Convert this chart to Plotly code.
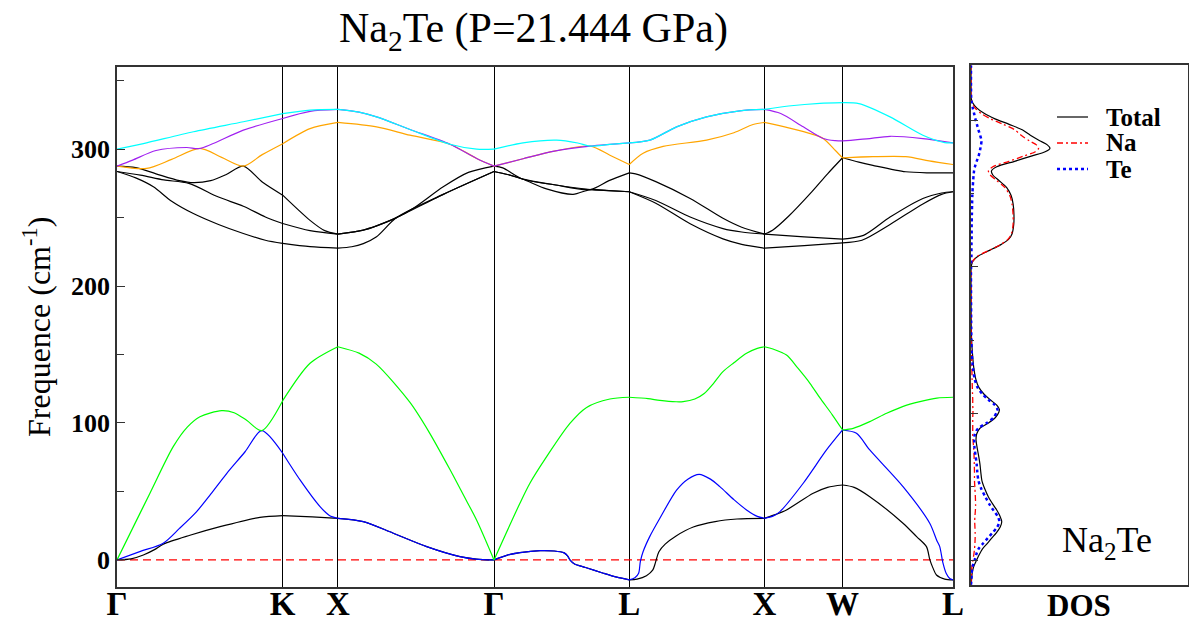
import plotly.graph_objects as go

# ---------------- data ----------------
K_SYM = [0.0, 1.061, 1.414, 2.414, 3.280, 4.146, 4.646, 5.353]
K_LABELS = ["Γ", "K", "X", "Γ", "L", "X", "W", "L"]

BAND1_K = [0, 0.09, 0.169, 0.24, 0.296, 0.467, 0.66, 0.915, 1.061, 1.25, 1.414, 1.577, 1.769, 1.983, 2.196, 2.30, 2.414,
           2.50, 2.58, 2.71, 2.80, 2.86, 2.885, 2.90, 2.93, 3.0, 3.114, 3.2, 3.280, 3.33, 3.39, 3.43, 3.445, 3.455, 3.47,
           3.51, 3.58, 3.69, 3.83, 3.97, 4.146, 4.20, 4.287, 4.458, 4.55, 4.646, 4.72, 4.82, 5.033, 5.12, 5.183, 5.205,
           5.225, 5.247, 5.30, 5.353]
BAND1_F = [0, 0.8, 3.6, 7.5, 11.5, 18, 24.3, 31.1, 32.4, 31.5, 30.4, 28, 19.5, 9.7, 2.4, 0.6, 0,
           3.5, 5.3, 6.8, 6.5, 5.3, 3.0, 0, -3.0, -5.5, -9.7, -12.6, -14.6, -14, -11.5, -7.5, -3, 1, 6,
           11.5, 17.5, 24, 28, 29.9, 30.4, 32.5, 36.5, 48.7, 53, 54.7, 53, 46.2, 26.8, 17, 9.7, 0,
           -6, -11, -14, -14.6]

BAND2_K = [0, 0.15, 0.296, 0.40, 0.51, 0.60, 0.702, 0.82, 0.926, 1.061, 1.172, 1.30, 1.36, 1.414, 1.577, 1.769, 1.983,
           2.196, 2.30, 2.414, 2.50, 2.58, 2.71, 2.80, 2.86, 2.885, 2.90, 2.93, 3.0, 3.114, 3.2, 3.280, 3.316, 3.34,
           3.351, 3.369, 3.411, 3.476, 3.583, 3.655, 3.728, 3.80, 3.86, 3.95, 4.031, 4.10, 4.146, 4.20, 4.245, 4.394,
           4.543, 4.646, 4.735, 4.82, 5.033, 5.204, 5.25, 5.268, 5.289, 5.31, 5.332, 5.353]
BAND2_F = [0, 6.2, 12.2, 23, 35.3, 48, 63.1, 79, 94.4, 77.9, 58.4, 38.9, 32.5, 30.4, 28, 19.5, 9.7,
           2.4, 0.6, 0, 3.5, 5.3, 6.8, 6.5, 5.3, 3.0, 0, -3.0, -5.5, -9.7, -12.6, -14.6, -13, -9.7,
           -1.2, 6.1, 17, 30.4, 51, 59, 62.5, 59, 53.5, 44, 36.5, 31.8, 30.4, 32, 35.3, 56,
           80.3, 94.9, 92.5, 80.3, 53.5, 26.8, 14, 9.7, -2.4, -10, -13.6, -14.6]

BAND3_K = [0, 0.106, 0.211, 0.36, 0.45, 0.531, 0.67, 0.75, 0.83, 0.926, 1.061, 1.236, 1.414, 1.55, 1.66, 1.876, 2.0,
           2.132, 2.22, 2.303, 2.414, 2.58, 2.644, 2.751, 2.9, 3.007, 3.156, 3.280, 3.40, 3.476, 3.58, 3.625, 3.70,
           3.76, 3.82, 3.88, 3.95, 4.031, 4.10, 4.146, 4.20, 4.287, 4.36, 4.437, 4.50, 4.58, 4.646, 4.714, 4.82,
           4.928, 5.03, 5.141, 5.25, 5.353]
BAND3_F = [0, 24.5, 48.7, 82.7, 97, 104.6, 109, 107.5, 102, 94.4, 116.3, 143.6, 155.7, 151, 143, 115, 93,
           66, 47, 29, 0, 41.4, 56, 75.4, 99.7, 111.4, 117.5, 118.8, 117.8, 116.5, 115.5, 115.6, 117.5,
           121.5, 129, 137.5, 144, 150.9, 154.5, 155.7, 154, 149.6, 140, 129, 118.5, 106, 94.9, 96.1, 101,
           107.1, 112, 115.6, 118.2, 118.8]

BAND4_K = [0, 0.12, 0.233, 0.35, 0.489, 0.65, 0.809, 0.95, 1.061, 1.236, 1.414, 1.503, 1.577, 1.662, 1.79, 2.089,
           2.414, 2.5, 2.6, 2.75, 2.92, 3.03, 3.15, 3.280, 3.45, 3.67, 3.88, 4.0, 4.146, 4.4, 4.646, 4.77, 4.95,
           5.16, 5.28, 5.353]
BAND4_F = [283.7, 279, 272.5, 262, 253, 245, 238.4, 233.5, 231.2, 228.8, 227.7, 228.7, 231, 236, 250, 267,
           283.7, 281.5, 278, 271, 267, 270.5, 269.7, 268.9, 260.5, 245.5, 234.5, 230.5, 227.7, 229.5, 231.6, 233.5, 245,
           260, 267, 268.9]

BAND5_K = [0, 0.15, 0.30, 0.46, 0.65, 0.809, 0.95, 1.061, 1.236, 1.414, 1.577, 1.662, 1.79, 2.089, 2.414, 2.5,
           2.63, 2.8, 3.03, 3.15, 3.280, 3.45, 3.67, 3.88, 4.0, 4.146, 4.4, 4.646, 4.78, 4.95, 5.16, 5.28, 5.353]
BAND5_F = [283.7, 281, 277.5, 275, 265, 258.3, 250.5, 245.7, 240.5, 238, 240.9, 244, 250, 267, 283.7, 281.5,
           277.4, 274, 270.5, 269.7, 268.9, 262.5, 250.4, 242, 239.5, 238, 236, 234.3, 237, 250.4, 264, 268, 268.9]

BAND6_K = [0, 0.12, 0.25, 0.40, 0.489, 0.60, 0.70, 0.809, 0.93, 1.061, 1.236, 1.33, 1.414, 1.577, 1.662, 1.79, 1.9,
           2.089, 2.25, 2.414, 2.47, 2.6, 2.8, 3.03, 3.15, 3.280, 3.32, 3.45, 3.67, 3.88, 4.0, 4.146, 4.2, 4.3,
           4.45, 4.55, 4.646, 4.75, 4.84, 5.05, 5.2, 5.353]
BAND6_F = [287.6, 286.5, 282, 277, 275.5, 277, 281.5, 287.6, 276, 266.4, 248, 240.5, 238, 240.9, 244, 250, 257,
           272.5, 283, 287.6, 286.3, 278, 274, 270.5, 277, 282.7, 282, 276.3, 264, 249.5, 243, 238, 241, 251,
           269, 282, 293.7, 290.5, 288.2, 283.5, 282.7, 282.7]

BAND7_K = [0, 0.19, 0.35, 0.531, 0.67, 0.809, 0.93, 1.061, 1.236, 1.414, 1.662, 1.876, 2.132, 2.303, 2.414, 2.6,
           2.8, 3.03, 3.156, 3.280, 3.369, 3.497, 3.775, 3.95, 4.073, 4.146, 4.3, 4.45, 4.522, 4.6, 4.646, 4.84,
           5.05, 5.2, 5.353]
BAND7_F = [287.6, 285.9, 292.5, 300.5, 294, 287.6, 296, 304, 315, 319.5, 316.3, 310.2, 303.6, 293.2, 287.6, 293,
           298.5, 302.2, 295.6, 288.8, 297, 302, 306.6, 312, 318, 319.5, 315.5, 311, 307.8, 299, 293.7, 294.5,
           294.5, 291.5, 288.8]

BAND8_K = [0, 0.10, 0.25, 0.446, 0.531, 0.809, 1.061, 1.236, 1.414, 1.55, 1.662, 1.876, 2.132, 2.303, 2.414, 2.6,
           2.8, 3.03, 3.156, 3.280, 3.412, 3.583, 3.775, 3.988, 4.146, 4.25, 4.394, 4.522, 4.6, 4.646, 4.8, 4.95,
           5.16, 5.353]
BAND8_F = [287.6, 292, 299, 301.2, 300.5, 313.9, 322.4, 327.6, 329, 327, 323.6, 314.4, 303.6, 293.2, 287.6, 293,
           298.5, 302.2, 303.5, 304.6, 306.6, 316.3, 323.6, 328, 329, 326, 316.3, 307.8, 306.2, 306, 307.5, 309.4,
           307.7, 304.6]

BAND9_K = [0, 0.169, 0.489, 0.809, 1.061, 1.236, 1.414, 1.55, 1.662, 1.876, 2.132, 2.303, 2.414, 2.6, 2.815, 2.95,
           3.03, 3.156, 3.280, 3.412, 3.583, 3.775, 3.988, 4.146, 4.3, 4.5, 4.646, 4.75, 4.95, 5.16, 5.3, 5.353]
BAND9_F = [300, 304.1, 312.7, 320, 326, 328.5, 329, 327, 323.6, 314.4, 303.6, 300, 300, 304.6, 306.6, 304.5,
           302.2, 303.5, 304.6, 306.6, 316.3, 323.6, 328, 329, 331.5, 333.5, 334, 333.3, 323.6, 310.2, 304.8, 304.6]

DOS_FREQ = [-18, -14, -10, -5, 0, 4, 8, 12, 16, 20, 24, 28, 32, 36, 40, 46, 52, 58, 64, 70, 76, 82, 88, 92, 96,
            100, 104, 108, 110, 113, 117, 121, 126, 132, 140, 150, 160, 170, 200, 212, 215, 218, 222, 226, 230,
            234, 238, 245, 252, 260, 266, 272, 277, 281, 284, 287, 291, 295, 298, 300.5, 303, 306, 310, 314,
            318, 322, 326, 330, 334, 337, 345, 361]
DOS_TOTAL = [0.0, 0.003, 0.005, 0.012, 0.026, 0.038, 0.052, 0.074, 0.095, 0.117, 0.134, 0.141, 0.133, 0.12, 0.103,
             0.08, 0.063, 0.05, 0.045, 0.041, 0.035, 0.028, 0.023, 0.026, 0.04, 0.08, 0.112, 0.128, 0.13, 0.118,
             0.088, 0.06, 0.036, 0.022, 0.013, 0.007, 0.003, 0.001, 0.0, 0.0, 0.002, 0.008, 0.035, 0.085, 0.135,
             0.172, 0.188, 0.196, 0.197, 0.193, 0.184, 0.163, 0.128, 0.1, 0.094, 0.118, 0.2, 0.28, 0.34, 0.362,
             0.35, 0.315, 0.272, 0.235, 0.175, 0.11, 0.06, 0.026, 0.007, 0.001, 0.0, 0.0]
DOS_NA = [0.0, 0.001, 0.002, 0.004, 0.009, 0.013, 0.016, 0.018, 0.019, 0.019, 0.018, 0.017, 0.018, 0.02, 0.021,
          0.02, 0.018, 0.016, 0.016, 0.015, 0.014, 0.012, 0.009, 0.008, 0.008, 0.008, 0.008, 0.009, 0.009, 0.008,
          0.008, 0.007, 0.006, 0.005, 0.004, 0.003, 0.001, 0.0, 0.0, 0.0, 0.001, 0.007, 0.033, 0.083, 0.133,
          0.169, 0.185, 0.193, 0.193, 0.188, 0.178, 0.155, 0.118, 0.088, 0.08, 0.1, 0.174, 0.245, 0.295, 0.31,
          0.3, 0.267, 0.23, 0.201, 0.148, 0.09, 0.046, 0.018, 0.004, 0.0, 0.0, 0.0]
DOS_TE = [0.0, 0.002, 0.003, 0.007, 0.017, 0.024, 0.034, 0.055, 0.077, 0.099, 0.12, 0.13, 0.122, 0.104, 0.087,
          0.066, 0.047, 0.034, 0.029, 0.026, 0.021, 0.016, 0.015, 0.018, 0.032, 0.072, 0.104, 0.118, 0.121, 0.11,
          0.08, 0.053, 0.03, 0.017, 0.009, 0.004, 0.002, 0.001, 0.0, 0.0, 0.001, 0.001, 0.002, 0.002, 0.002,
          0.003, 0.003, 0.003, 0.004, 0.005, 0.006, 0.008, 0.01, 0.012, 0.014, 0.018, 0.026, 0.035, 0.04, 0.043,
          0.046, 0.048, 0.042, 0.034, 0.027, 0.02, 0.014, 0.008, 0.003, 0.001, 0.0, 0.0]

BANDS = [(BAND1_K, BAND1_F, "#000000"), (BAND2_K, BAND2_F, "#0000ff"), (BAND3_K, BAND3_F, "#00ff00"),
         (BAND4_K, BAND4_F, "#000000"), (BAND5_K, BAND5_F, "#000000"), (BAND6_K, BAND6_F, "#000000"),
         (BAND7_K, BAND7_F, "#ffa500"), (BAND8_K, BAND8_F, "#a020f0"), (BAND9_K, BAND9_F, "#00ffff")]

# ---------------- figure ----------------
FONT = "Liberation Serif"
W, H = 1189, 623


def px_x(p):
    return p / W


def px_y(p):
    return 1 - p / H


def segmented(k, f):
    xs, ys = [], []
    for a, b in zip(K_SYM[:-1], K_SYM[1:]):
        idx = [j for j in range(len(k)) if a - 1e-9 <= k[j] <= b + 1e-9]
        xs += [k[j] for j in idx] + [None]
        ys += [f[j] for j in idx] + [None]
    return xs, ys


fig = go.Figure()

# zero line
fig.add_trace(go.Scatter(x=[K_SYM[0], K_SYM[-1]], y=[0, 0], mode="lines",
                         line=dict(color="#ff0000", width=1.2, dash="8px,5px"),
                         xaxis="x", yaxis="y", showlegend=False, hoverinfo="skip"))

for k, f, c in BANDS:
    assert len(k) == len(f)
    xs, ys = segmented(k, f)
    fig.add_trace(go.Scatter(x=xs, y=ys, mode="lines", connectgaps=False,
                             line=dict(color=c, width=1.2, shape="spline", smoothing=0.8),
                             xaxis="x", yaxis="y", showlegend=False))

assert len(DOS_FREQ) == len(DOS_TOTAL) == len(DOS_NA) == len(DOS_TE)
fig.add_trace(go.Scatter(x=DOS_TOTAL, y=DOS_FREQ, mode="lines",
                         line=dict(color="#000000", width=1.2, shape="spline", smoothing=0.8),
                         xaxis="x2", yaxis="y2", showlegend=False))
fig.add_trace(go.Scatter(x=DOS_NA, y=DOS_FREQ, mode="lines",
                         line=dict(color="#ff0000", width=1.3, dash="6px,3px,2px,3px", shape="spline",
                                   smoothing=0.8),
                         xaxis="x2", yaxis="y2", showlegend=False))
fig.add_trace(go.Scatter(x=DOS_TE, y=DOS_FREQ, mode="lines",
                         line=dict(color="#0000ff", width=2.5, dash="dot", shape="spline", smoothing=0.8),
                         xaxis="x2", yaxis="y2", showlegend=False))

frame = dict(showline=True, linecolor="#333333", linewidth=1.6, mirror=True, zeroline=False, automargin=False)

fig.update_layout(
    template="none",
    width=W, height=H, margin=dict(l=0, r=0, t=0, b=0, autoexpand=False),
    paper_bgcolor="white", plot_bgcolor="white",
    font=dict(family=FONT, color="black"),
    xaxis=dict(domain=[px_x(117), px_x(953)], range=[K_SYM[0], K_SYM[-1]],
               tickmode="array", tickvals=K_SYM, ticktext=K_LABELS, ticks="",
               showgrid=True, gridcolor="#000000", gridwidth=1.1, ticklabelstandoff=-14,
               tickfont=dict(family=FONT, size=33, color="black", weight="bold"), **frame),
    yaxis=dict(domain=[px_y(587.3), px_y(67)], range=[-20, 360],
               tickmode="linear", tick0=0, dtick=100, ticks="inside", ticklen=8, tickwidth=1.2,
               tickcolor="#333333", showgrid=False,
               minor=dict(dtick=50, ticks="inside", ticklen=7, tickwidth=1.2, tickcolor="#333333"),
               tickfont=dict(family=FONT, size=26, color="black", weight="bold"), **frame),
    xaxis2=dict(domain=[px_x(971), px_x(1188)], range=[0, 0.995], showticklabels=False, ticks="",
                showgrid=False, anchor="y2", **frame),
    yaxis2=dict(domain=[px_y(585), px_y(65)], range=[-18.25, 361.3], anchor="x2",
                tickmode="linear", tick0=0, dtick=107, ticks="inside", ticklen=7, tickwidth=1,
                tickcolor="#333333", showticklabels=False, showgrid=False,
                minor=dict(dtick=53.5, ticks="inside", ticklen=3, tickwidth=1, tickcolor="#333333"),
                **frame),
)

# legend drawn in the DOS panel
legend_rows = [("Total", "#000000", "solid", 1.2, 117),
               ("Na", "#ff0000", "6px,3px,2px,3px", 1.3, 143),
               ("Te", "#0000ff", "dot", 2.5, 169)]
for name, col, dash, wd, yy in legend_rows:
    fig.add_shape(type="line", xref="paper", yref="paper", x0=px_x(1057), x1=px_x(1088),
                  y0=px_y(yy), y1=px_y(yy), line=dict(color=col, width=wd, dash=dash))
    fig.add_annotation(text=name, xref="paper", yref="paper", x=px_x(1104), y=px_y(yy),
                       xanchor="left", yanchor="middle", showarrow=False,
                       font=dict(family=FONT, size=25, color="black", weight="bold"))

fig.add_annotation(text="Na<sub>2</sub>Te (P=21.444 GPa)", xref="paper", yref="paper",
                   x=px_x(533), y=px_y(31), xanchor="center", yanchor="middle", showarrow=False,
                   font=dict(family=FONT, size=42, color="black"))
fig.add_annotation(text="Frequence (cm<sup>-1</sup>)", xref="paper", yref="paper",
                   x=px_x(37), y=px_y(327), xanchor="center", yanchor="middle", showarrow=False,
                   textangle=-90, font=dict(family=FONT, size=32, color="black"))
fig.add_annotation(text="DOS", xref="paper", yref="paper", x=px_x(1079), y=px_y(605),
                   xanchor="center", yanchor="middle", showarrow=False,
                   font=dict(family=FONT, size=31, color="black", weight="bold"))
fig.add_annotation(text="Na<sub>2</sub>Te", xref="paper", yref="paper", x=px_x(1107), y=px_y(542),
                   xanchor="center", yanchor="middle", showarrow=False,
                   font=dict(family=FONT, size=36, color="black"))

fig.write_html("out.html", config={"displayModeBar": False},
               post_script="document.body.style.margin='0px';document.body.style.padding='0px';"
                           "document.documentElement.style.overflow='hidden';")
